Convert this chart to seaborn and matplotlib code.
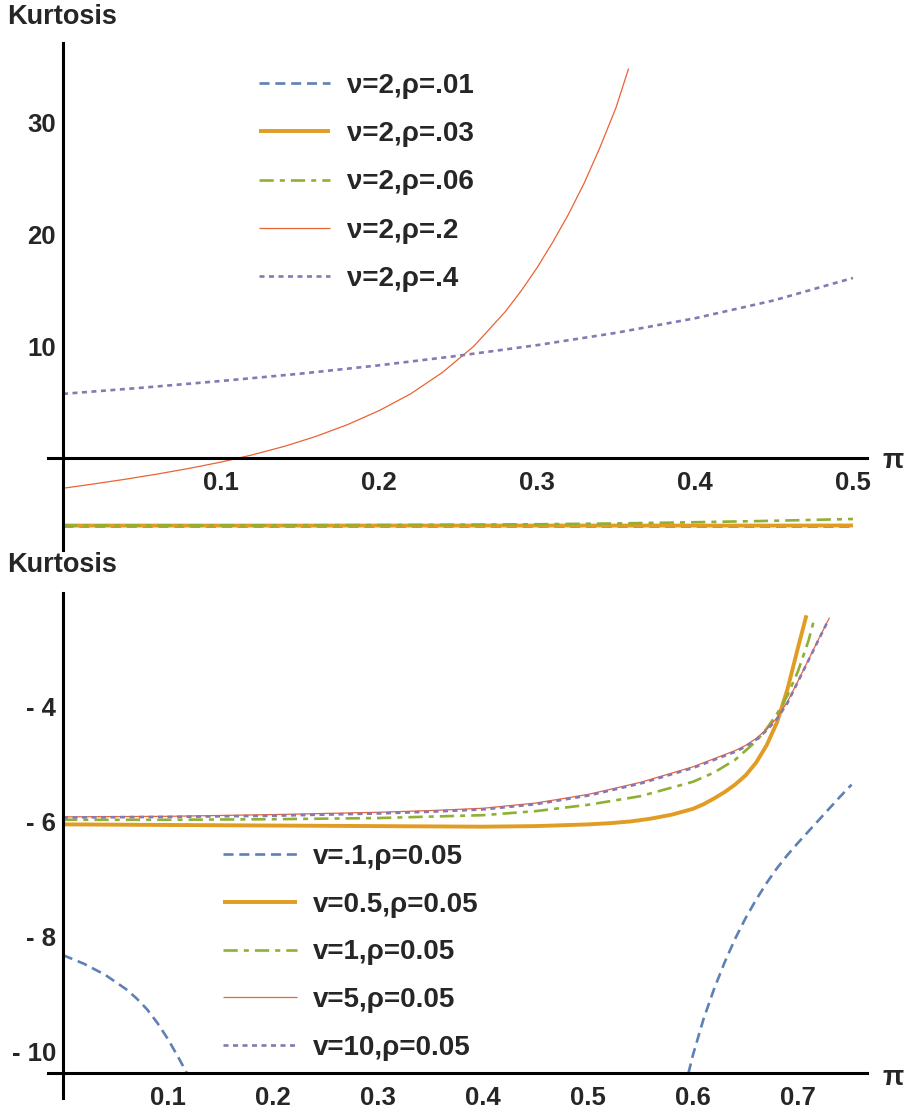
import matplotlib
matplotlib.use("Agg")
import matplotlib.pyplot as plt
import seaborn as sns

# ---------------- data: upper panel (nu = 2, varying rho) ----------------
top_x = [0.0, 0.05, 0.1, 0.15, 0.2, 0.25, 0.3, 0.35, 0.4, 0.45, 0.5]
top_rho01 = [-6.02, -6.02, -6.02, -6.02, -6.02, -6.02, -6.02, -6.02, -6.02, -6.02, -6.02]
top_rho03 = [-6.01, -6.01, -6.01, -6.01, -6.01, -6.01, -6.01, -6.01, -6.01, -6.01, -6.00]
top_rho06 = [-6.00, -6.00, -5.99, -5.98, -5.96, -5.93, -5.89, -5.82, -5.71, -5.58, -5.42]
top_rho4 = [5.75, 6.30, 6.90, 7.55, 8.30, 9.15, 10.10, 11.20, 12.50, 14.10, 16.10]
top_rho2_x = [0.0, 0.02, 0.04, 0.06, 0.08, 0.1, 0.12, 0.14, 0.16, 0.18, 0.2,
              0.22, 0.24, 0.26, 0.28, 0.29, 0.3, 0.31, 0.32, 0.33, 0.34, 0.35, 0.358]
top_rho2 = [-2.68, -2.28, -1.86, -1.40, -0.90, -0.34, 0.31, 1.06, 1.95, 3.00, 4.25,
            5.75, 7.65, 10.00, 13.10, 14.95, 17.00, 19.30, 21.80, 24.60, 27.80, 31.30, 34.80]
top_labels = ["ν=2,ρ=.01", "ν=2,ρ=.03", "ν=2,ρ=.06", "ν=2,ρ=.2", "ν=2,ρ=.4"]

# ---------------- data: lower panel (rho = 0.05, varying v) ----------------
bot_v01_left_x = [0.0, 0.02, 0.04, 0.06, 0.07, 0.08, 0.09, 0.1, 0.11, 0.118]
bot_v01_left = [-8.32, -8.47, -8.66, -8.91, -9.07, -9.26, -9.50, -9.78, -10.10, -10.37]
bot_v01_right_x = [0.5956, 0.6, 0.61, 0.62, 0.63, 0.64, 0.65, 0.66, 0.67, 0.68,
                   0.69, 0.7, 0.71, 0.72, 0.73, 0.74, 0.751]
bot_v01_right = [-10.37, -10.05, -9.43, -8.91, -8.45, -8.04, -7.68, -7.36, -7.07,
                 -6.81, -6.58, -6.37, -6.17, -5.97, -5.77, -5.57, -5.36]
bot_v05_x = [0.0, 0.1, 0.2, 0.3, 0.4, 0.45, 0.5, 0.52, 0.54, 0.56, 0.58, 0.6,
             0.61, 0.62, 0.63, 0.64, 0.65, 0.66, 0.67, 0.68, 0.69, 0.7, 0.708]
bot_v05 = [-6.05, -6.06, -6.07, -6.08, -6.09, -6.08, -6.05, -6.03, -6.00, -5.95,
           -5.88, -5.78, -5.70, -5.60, -5.49, -5.36, -5.20, -4.98, -4.68, -4.28,
           -3.70, -2.98, -2.42]
bot_v1_x = [0.0, 0.1, 0.2, 0.3, 0.4, 0.45, 0.5, 0.55, 0.6, 0.62, 0.64, 0.66,
            0.67, 0.68, 0.69, 0.7, 0.71, 0.716]
bot_v1 = [-5.97, -5.97, -5.96, -5.94, -5.89, -5.82, -5.71, -5.56, -5.31, -5.15,
          -4.93, -4.61, -4.39, -4.13, -3.81, -3.39, -2.86, -2.45]
bot_v5_x = [0.0, 0.1, 0.2, 0.3, 0.35, 0.4, 0.45, 0.5, 0.55, 0.6, 0.62, 0.64,
            0.65, 0.66, 0.67, 0.68, 0.69, 0.7, 0.71, 0.72, 0.73]
bot_v5 = [-5.92, -5.91, -5.88, -5.84, -5.81, -5.77, -5.68, -5.53, -5.32, -5.05,
          -4.91, -4.77, -4.68, -4.56, -4.40, -4.20, -3.92, -3.56, -3.19, -2.82, -2.46]
bot_v10_x = [0.0, 0.1, 0.2, 0.3, 0.35, 0.4, 0.45, 0.5, 0.55, 0.6, 0.62, 0.64,
             0.65, 0.66, 0.67, 0.68, 0.69, 0.7, 0.71, 0.72, 0.729]
bot_v10 = [-5.93, -5.92, -5.90, -5.86, -5.83, -5.79, -5.70, -5.55, -5.34, -5.07,
           -4.93, -4.79, -4.70, -4.58, -4.42, -4.22, -3.94, -3.57, -3.20, -2.83, -2.50]
bot_labels = ["v=.1,ρ=0.05", "v=0.5,ρ=0.05", "v=1,ρ=0.05", "v=5,ρ=0.05", "v=10,ρ=0.05"]

# ---------------- ticks ----------------
top_xticks = [0.1, 0.2, 0.3, 0.4, 0.5]
top_xticklabels = ["0.1", "0.2", "0.3", "0.4", "0.5"]
top_yticks = [10, 20, 30]
top_yticklabels = ["10", "20", "30"]
bot_xticks = [0.1, 0.2, 0.3, 0.4, 0.5, 0.6, 0.7]
bot_xticklabels = ["0.1", "0.2", "0.3", "0.4", "0.5", "0.6", "0.7"]
bot_yticks = [-10, -8, -6, -4]
bot_yticklabels = ["- 10", "- 8", "- 6", "- 4"]

# ---------------- styling ----------------
sns.set_style("white")
plt.rcParams["font.family"] = ["Liberation Sans", "DejaVu Sans"]
plt.rcParams["font.weight"] = "bold"

BLUE = "#5E81B5"
ORANGE = "#E19C24"
GREEN = "#8FB032"
RED = "#EB6235"
PURPLE = "#8778B3"

styles = [
    dict(color=BLUE, linewidth=1.9, linestyle=(0, (3.8, 2.2))),
    dict(color=ORANGE, linewidth=2.8, linestyle="-"),
    dict(color=GREEN, linewidth=1.9, linestyle=(0, (5.4, 2.3, 1.9, 2.3))),
    dict(color=RED, linewidth=0.9, linestyle="-"),
    dict(color=PURPLE, linewidth=1.9, linestyle=(0, (1.9, 1.7))),
]

W, H = 909, 1115
fig = plt.figure(figsize=(W / 100, H / 100), dpi=100)


def px_axes(left, top, right, bottom):
    return fig.add_axes([left / W, 1 - bottom / H, (right - left) / W, (bottom - top) / H])


def draw(ax, x, y, st, label):
    sns.lineplot(x=x, y=y, ax=ax, sort=False, estimator=None, label=label,
                 solid_capstyle="butt", solid_joinstyle="round", **st)


def style_axes(ax, xaxis_at, xlim, ylim, xticks, xlabels, xminor, yticks, ylabels, yminor):
    ax.set_xlim(*xlim)
    ax.set_ylim(*ylim)
    for s in ("top", "right"):
        ax.spines[s].set_visible(False)
    ax.spines["left"].set_position(("data", 0))
    ax.spines["bottom"].set_position(("data", xaxis_at))
    for s in ("left", "bottom"):
        ax.spines[s].set_linewidth(2.2)
        ax.spines[s].set_color("black")
    ax.set_xticks(xticks)
    ax.set_xticklabels(xlabels)
    ax.set_xticks(xminor, minor=True)
    ax.set_yticks(yticks)
    ax.set_yticklabels(ylabels)
    ax.set_yticks(yminor, minor=True)
    ax.tick_params(which="major", direction="in", length=4.5, width=0.9, color="#555555",
                   labelsize=18.5)
    ax.tick_params(which="minor", direction="in", length=2.6, width=0.8, color="#555555")
    ax.tick_params(axis="x", which="major", pad=9)
    ax.tick_params(axis="y", which="major", pad=5)
    for t in ax.get_xticklabels() + ax.get_yticklabels():
        t.set_fontweight("bold")
    ax.set_xlabel("")
    ax.set_ylabel("")
    ax.patch.set_alpha(0)


# ---------------- upper panel ----------------
ax1 = px_axes(48, 43, 867, 550)
top_series = [(top_x, top_rho01), (top_x, top_rho03), (top_x, top_rho06),
              (top_rho2_x, top_rho2), (top_x, top_rho4)]
for (xs, ys), st, lab in zip(top_series, styles, top_labels):
    draw(ax1, xs, ys, st, lab)

style_axes(ax1, 0, (-0.0095, 0.5089), (-8.19, 37.08),
           top_xticks, top_xticklabels, [i * 0.02 for i in range(1, 26)],
           top_yticks, top_yticklabels, [v for v in range(-8, 37, 2) if v != 0])

ax1.legend(loc="upper left", bbox_to_anchor=(259 / W, 1 - 73 / H),
           bbox_transform=fig.transFigure, frameon=False, borderpad=0,
           borderaxespad=0, handlelength=2.55, handletextpad=0.62,
           labelspacing=0.8, prop=dict(weight="bold", size=20))

# ---------------- lower panel ----------------
ax2 = px_axes(48, 593, 867, 1098)
draw(ax2, bot_v01_left_x, bot_v01_left, styles[0], bot_labels[0])
draw(ax2, bot_v01_right_x, bot_v01_right, styles[0], "_nolegend_")
bot_series = [(bot_v05_x, bot_v05), (bot_v1_x, bot_v1), (bot_v5_x, bot_v5),
              (bot_v10_x, bot_v10)]
for (xs, ys), st, lab in zip(bot_series, styles[1:], bot_labels[1:]):
    draw(ax2, xs, ys, st, lab)

style_axes(ax2, -10.366, (-0.0143, 0.7657), (-10.80, -2.033),
           bot_xticks, bot_xticklabels, [i * 0.02 for i in range(1, 39)],
           bot_yticks, bot_yticklabels, [-10.5 + 0.5 * i for i in range(17)])

ax2.legend(loc="upper left", bbox_to_anchor=(223 / W, 1 - 844 / H),
           bbox_transform=fig.transFigure, frameon=False, borderpad=0,
           borderaxespad=0, handlelength=2.66, handletextpad=0.56,
           labelspacing=0.78, prop=dict(weight="bold", size=20))

# ---------------- axis titles ----------------
for ypx in (17, 565):
    fig.text(7 / W, 1 - ypx / H, "Kurtosis", ha="left", va="center",
             fontsize=19.5, fontweight="bold")
for ypx in (461, 1078):
    fig.text(893 / W, 1 - ypx / H, "π", ha="center", va="center",
             fontsize=20, fontweight="bold")

fig.savefig("out.png", dpi=100)
